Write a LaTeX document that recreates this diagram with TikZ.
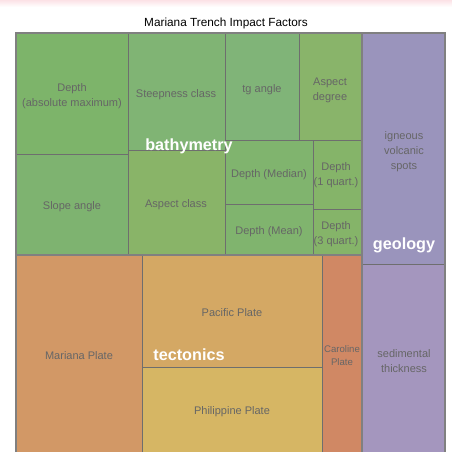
\documentclass[tikz,border=0pt]{standalone}
\usepackage{fontspec}
\setmainfont{Liberation Sans}
\usetikzlibrary{positioning}

\definecolor{gridline}{HTML}{6E6E6E}
\definecolor{frameline}{HTML}{808080}
\definecolor{labelgray}{HTML}{666666}
\definecolor{bathyA}{RGB}{125,180,106}
\definecolor{bathyB}{RGB}{126,179,112}
\definecolor{bathyC}{RGB}{128,180,116}
\definecolor{bathyD}{RGB}{128,180,120}
\definecolor{bathyE}{RGB}{137,180,106}
\definecolor{bathyF}{RGB}{137,180,104}
\definecolor{bathyG}{RGB}{128,180,110}
\definecolor{bathyH}{RGB}{133,180,105}
\definecolor{geoA}{RGB}{154,148,188}
\definecolor{geoB}{RGB}{164,150,190}
\definecolor{tecA}{RGB}{210,152,102}
\definecolor{tecB}{RGB}{212,168,100}
\definecolor{tecC}{RGB}{214,182,100}
\definecolor{tecD}{RGB}{208,136,100}
\definecolor{topfade}{RGB}{252,226,230}

\begin{document}
\begin{tikzpicture}[x=1pt, y=-1pt,
    cell/.style={draw=gridline, line width=0.8pt},
    group/.style={draw=frameline, line width=2.6pt},
    leaf/.style={align=center, text=labelgray, font=\fontsize{11}{15}\selectfont},
    small leaf/.style={leaf, font=\fontsize{9.6}{13}\selectfont},
    branch/.style={text=white, font=\fontsize{16.2}{18}\selectfont\bfseries}]
    \useasboundingbox (0,0) rectangle (452,451);
    \clip (0,0) rectangle (452,451);
    \shade[top color=topfade, bottom color=white] (0,0) rectangle (452,7);

    \node (title) at (226,23) {\fontsize{11.8}{13}\selectfont Mariana Trench Impact Factors};

    % bathymetry
    \filldraw[cell, fill=bathyA] (16,33) rectangle (128,154);
    \filldraw[cell, fill=bathyB] (16,154) rectangle (128,255);
    \filldraw[cell, fill=bathyC] (128,33) rectangle (225,150);
    \filldraw[cell, fill=bathyF] (128,150) rectangle (225,255);
    \filldraw[cell, fill=bathyD] (225,33) rectangle (299,140);
    \filldraw[cell, fill=bathyE] (299,33) rectangle (362,140);
    \filldraw[cell, fill=bathyG] (225,140) rectangle (313,204);
    \filldraw[cell, fill=bathyG] (225,204) rectangle (313,255);
    \filldraw[cell, fill=bathyH] (313,140) rectangle (362,209);
    \filldraw[cell, fill=bathyH] (313,209) rectangle (362,255);

    \node[leaf] (depthmax) at (72,96) {Depth\\(absolute maximum)};
    \node[leaf] (slope) at (72,207) {Slope angle};
    \node[leaf] (steep) at (176,95) {Steepness class};
    \node[leaf] (aspcls) at (176,205) {Aspect class};
    \node[leaf] (tgangle) at (262,90) {tg angle};
    \node[leaf] (aspdeg) at (330,90) {Aspect\\degree};
    \node[leaf] (median) at (269,175) {Depth (Median)};
    \node[leaf] (mean) at (269,232) {Depth (Mean)};
    \node[leaf] (quartA) at (336,175) {Depth\\(1 quart.)};
    \node[leaf] (quartC) at (336,234) {Depth\\(3 quart.)};

    % geology
    \filldraw[cell, fill=geoA] (362,33) rectangle (445,264);
    \filldraw[cell, fill=geoB] (362,264) rectangle (445,460);
    \node[leaf] (igneous) at (404,152) {igneous\\volcanic\\spots};
    \node[leaf] (sediment) at (404,361) {sedimental\\thickness};

    % tectonics
    \filldraw[cell, fill=tecA] (16,255) rectangle (142,460);
    \filldraw[cell, fill=tecB] (142,255) rectangle (322,367);
    \filldraw[cell, fill=tecC] (142,367) rectangle (322,460);
    \filldraw[cell, fill=tecD] (322,255) rectangle (362,460);
    \node[leaf] (mariana) at (79,356) {Mariana Plate};
    \node[leaf] (pacific) at (232,313) {Pacific Plate};
    \node[leaf] (philippine) at (232,412) {Philippine Plate};
    \node[small leaf] (caroline) at (342,356) {Caroline\\Plate};

    % group frames
    \draw[group] (16,33) rectangle (362,255);
    \draw[group] (362,33) rectangle (445,460);
    \draw[group] (16,255) rectangle (362,460);

    \node[branch] (bathymetry) at (189,146) {bathymetry};
    \node[branch] (geology) at (404,245) {geology};
    \node[branch] (tectonics) at (189,355) {tectonics};
\end{tikzpicture}
\end{document}
